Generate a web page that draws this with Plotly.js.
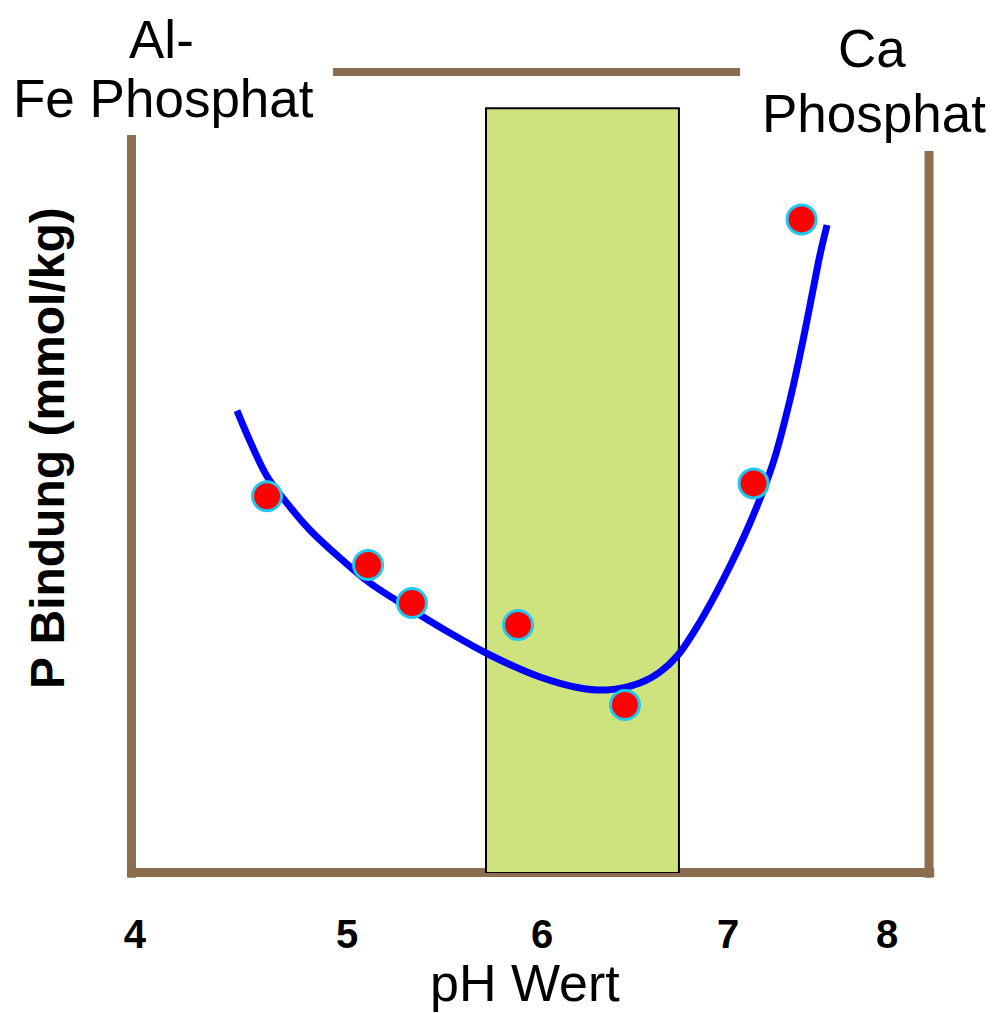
<!DOCTYPE html>
<html>
<head>
<meta charset="utf-8">
<script src="https://cdn.plot.ly/plotly-3.0.1.min.js"></script>
<style>html,body{margin:0;padding:0;background:#fff;}#chart{width:993px;height:1013px;}</style>
</head>
<body>
<div id="chart"></div>
<script>
// Measured points (pH scale, relative P binding)
const pointsPH = [4.704, 5.243, 5.477, 6.043, 6.613, 7.299, 7.555];
const pointsP  = [47.1, 38.5, 33.75, 31.0, 21.0, 48.7, 81.7];

// Fitted trend curve
const curvePH = [4.544, 4.613, 4.704, 4.827, 4.933, 5.093, 5.253, 5.477, 5.680, 5.893, 6.160, 6.373, 6.517, 6.693, 6.800, 6.896, 7.013, 7.136, 7.280, 7.403, 7.493, 7.563, 7.616, 7.653, 7.691];
const curveP  = [57.8, 54.0, 49.6, 45.75, 42.88, 39.38, 36.25, 32.88, 30.0, 27.25, 24.5, 23.13, 22.88, 23.75, 25.13, 27.25, 31.38, 36.63, 43.75, 51.25, 59.13, 66.63, 72.88, 77.25, 81.0];

// Optimal pH band
const optimalBand = [5.872, 6.901];
const optimalTop = 95.6;

// Axis tick labels
const tickLabels = ['4', '5', '6', '7', '8'];
const tickPositions = [4.0, 5.131, 6.171, 7.163, 8.011];

const FONT = 'Liberation Sans, Arial, Helvetica, sans-serif';
const BROWN = '#8C6D4E';

const traces = [
  {
    x: curvePH, y: curveP, type: 'scatter', mode: 'lines',
    line: {color: '#0000FF', width: 7, shape: 'spline', smoothing: 1.0},
    hoverinfo: 'skip', showlegend: false
  },
  {
    x: pointsPH, y: pointsP, type: 'scatter', mode: 'markers',
    marker: {symbol: 'circle', size: 29, color: '#FF0000', line: {color: '#1EC8F0', width: 3}},
    showlegend: false, cliponaxis: false
  }
];

const layout = {
  width: 993, height: 1013,
  margin: {l: 131, r: 62, t: 73, b: 140},
  paper_bgcolor: '#FFFFFF', plot_bgcolor: 'rgba(0,0,0,0)',
  font: {family: FONT, color: '#000000'},
  showlegend: false,
  xaxis: {
    range: [3.9787, 8.2453], showgrid: false, zeroline: false, showline: false,
    tickmode: 'array', tickvals: tickPositions, ticktext: tickLabels,
    ticks: '', ticklabelstandoff: 34,
    tickfont: {family: FONT, size: 40, color: '#000', weight: 'bold'},
    automargin: false, fixedrange: true
  },
  yaxis: {
    range: [0, 100], showgrid: false, zeroline: false, showline: false,
    showticklabels: false, ticks: '', automargin: false, fixedrange: true
  },
  shapes: [
    {type: 'rect', xref: 'x', yref: 'y', x0: optimalBand[0], x1: optimalBand[1], y0: 0, y1: optimalTop,
     fillcolor: '#CDE47E', line: {color: '#000000', width: 2}, layer: 'below'},
    {type: 'line', xref: 'paper', yref: 'paper', x0: 0.0006, x1: 0.0006, y0: -0.0058, y1: 0.9225,
     line: {color: BROWN, width: 9}, layer: 'below'},
    {type: 'line', xref: 'paper', yref: 'paper', x0: 0.9975, x1: 0.9975, y0: -0.0058, y1: 0.9025,
     line: {color: BROWN, width: 9}, layer: 'below'},
    {type: 'line', xref: 'paper', yref: 'paper', x0: -0.005, x1: 1.004, y0: 0.0006, y1: 0.0006,
     line: {color: BROWN, width: 9}, layer: 'below'},
    {type: 'line', xref: 'paper', yref: 'paper', x0: 0.2525, x1: 0.76125, y0: 1.00125, y1: 1.00125,
     line: {color: BROWN, width: 8}, layer: 'below'}
  ],
  annotations: [
    {text: 'Al-', xref: 'paper', yref: 'paper', x: (161 - 131) / 800, y: (873 - 40) / 800,
     xanchor: 'center', yanchor: 'middle', showarrow: false, font: {family: FONT, size: 53, color: '#000'}},
    {text: 'Fe Phosphat', xref: 'paper', yref: 'paper', x: (163 - 131) / 800, y: (873 - 98) / 800,
     xanchor: 'center', yanchor: 'middle', showarrow: false, font: {family: FONT, size: 53, color: '#000'}},
    {text: 'Ca', xref: 'paper', yref: 'paper', x: (872 - 131) / 800, y: (873 - 48) / 800,
     xanchor: 'center', yanchor: 'middle', showarrow: false, font: {family: FONT, size: 53, color: '#000'}},
    {text: 'Phosphat', xref: 'paper', yref: 'paper', x: (874 - 131) / 800, y: (873 - 113) / 800,
     xanchor: 'center', yanchor: 'middle', showarrow: false, font: {family: FONT, size: 53, color: '#000'}},
    {text: 'P Bindung (mmol/kg)', xref: 'paper', yref: 'paper', x: (47 - 131) / 800, y: (873 - 448) / 800,
     xanchor: 'center', yanchor: 'middle', textangle: -90, showarrow: false,
     font: {family: FONT, size: 48, color: '#000', weight: 'bold'}},
    {text: 'pH Wert', xref: 'paper', yref: 'paper', x: (525 - 131) / 800, y: (873 - 983) / 800,
     xanchor: 'center', yanchor: 'middle', showarrow: false, borderpad: 0,
     font: {family: FONT, size: 52, color: '#000'}}
  ]
};

Plotly.newPlot('chart', traces, layout, {displayModeBar: false, staticPlot: true});
</script>
</body>
</html>
